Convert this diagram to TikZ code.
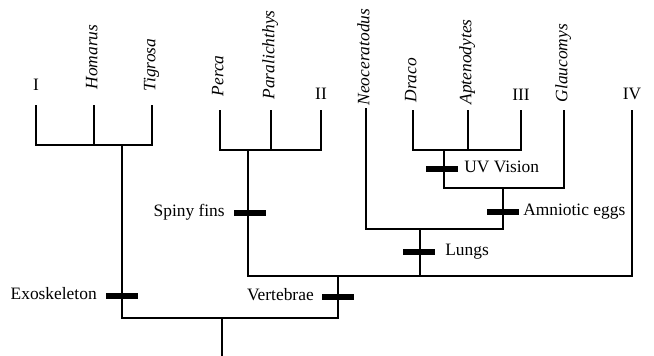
\documentclass[tikz,border=0pt]{standalone}
\usepackage{fontspec}
\setmainfont{Liberation Serif}
\usetikzlibrary{positioning}

\begin{document}
\begin{tikzpicture}[x=1pt,y=-1pt,line width=1.3pt,
    every node/.style={font=\fontsize{17.4}{20}\selectfont},
    taxon/.style={rotate=90,anchor=west,inner sep=0pt,text height=0.66em,text depth=0pt,
      font=\fontsize{17.4}{20}\selectfont\itshape},
    group/.style={inner sep=0pt,text height=0.66em,text depth=0pt},
    bar/.style={fill,rectangle,minimum width=32pt,minimum height=6pt,inner sep=0pt},
    trait/.style={inner sep=0pt,text height=0.66em,text depth=0pt}]
      \useasboundingbox (0,0) rectangle (654,356);

      % tips
      \coordinate (i1) at (36,105);
      \coordinate (i2) at (94,105);
      \coordinate (i3) at (152,105);
      \coordinate (p1) at (220,110);
      \coordinate (p2) at (271,110);
      \coordinate (p3) at (321,110);
      \coordinate (n1) at (366,108);
      \coordinate (d1) at (413,110);
      \coordinate (d2) at (468,110);
      \coordinate (d3) at (521,110);
      \coordinate (g1) at (564,110);
      \coordinate (iv) at (632,110);

      % joins
      \coordinate (root) at (222,356);
      \coordinate (r) at (222,318);
      \coordinate (a) at (122,145);
      \coordinate (v) at (338,276);
      \coordinate (f) at (248,150);
      \coordinate (l) at (420,229);
      \coordinate (m) at (503,188);
      \coordinate (u) at (444,150);

      % names
      \node[group] (lI) at (36,87) {I};
      \node[taxon] (lhom) at (94,90) {Homarus};
      \node[taxon] (ltig) at (152,92) {Tigrosa};
      \node[taxon] (lper) at (220,97) {Perca};
      \node[taxon] (lpar) at (271,100) {Paralichthys};
      \node[group] (lII) at (321,96) {II};
      \node[taxon] (lneo) at (366,106) {Neoceratodus};
      \node[taxon] (ldra) at (413,103) {Draco};
      \node[taxon] (lapt) at (468,105) {Aptenodytes};
      \node[group] (lIII) at (521,97) {III};
      \node[taxon] (lgla) at (564,103) {Glaucomys};
      \node[group] (lIV) at (632,96) {IV};

      % branches
      \draw (root) -- (r);
      \draw (a) |- (r) -| (v);
      \draw (i1) |- (a) -| (i3);
      \draw (i2) -- (i2 |- a);
      \draw (p1) |- (f) -| (p3);
      \draw (p2) -- (p2 |- f);
      \draw (f) |- (v) -| (iv);
      \draw (l) -- (l |- v);
      \draw (n1) |- (l) -| (m);
      \draw (u) |- (m) -| (g1);
      \draw (d1) |- (u) -| (d3);
      \draw (d2) -- (d2 |- u);

      % characters
      \node[bar] (exo) at (122,296) {};
      \node[trait,left=8pt of exo] (lexo) {Exoskeleton};
      \node[bar] (spi) at (250,213) {};
      \node[trait,left=8pt of spi] (lspi) {Spiny fins};
      \node[bar] (ver) at (338,297) {};
      \node[trait,left=7pt of ver] (lver) {Vertebrae};
      \node[bar] (lun) at (419,252) {};
      \node[trait,right=9pt of lun] (llun) {Lungs};
      \node[bar] (amn) at (503,212) {};
      \node[trait,right=3pt of amn] (lamn) {Amniotic eggs};
      \node[bar] (uvv) at (442,169) {};
      \node[trait,right=5pt of uvv] (luvv) {UV Vision};
    \end{tikzpicture}
\end{document}
